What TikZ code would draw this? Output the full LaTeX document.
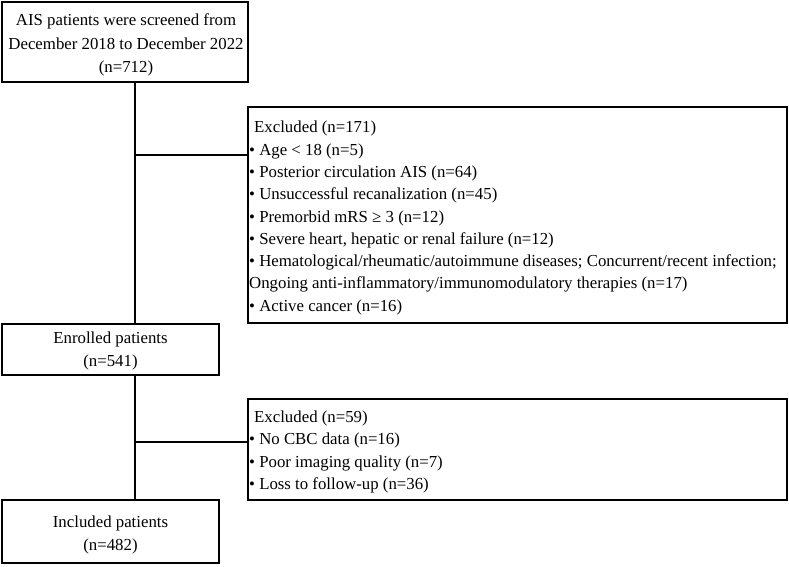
\documentclass[tikz,border=0pt]{standalone}
\usepackage{fontspec}
\setmainfont{Liberation Serif}
\begin{document}
\begin{tikzpicture}[x=1pt,y=-1pt,
  box/.style={draw, line width=1.3pt, inner sep=0pt},
  link/.style={draw, line width=1.3pt},
  ctxt/.style={inner sep=0pt, align=center, font=\fontsize{16.8}{23.5}\selectfont},
  txt/.style={inner sep=0pt, align=left, anchor=west, font=\fontsize{16.8}{22.3}\selectfont}]
\useasboundingbox (0,0) rectangle (789,567);
\node[box, minimum width=246pt, minimum height=80pt] (top) at (125,42) {};
\node[ctxt] (topt) at (126,45)
  {AIS patients were screened from\\December 2018 to December 2022\\(n=712)};
\node[box, minimum width=539pt, minimum height=216pt] (ex1) at (517.5,215) {};
\node[txt] (ex1t) at (249,218) {\hspace{5pt}Excluded (n=171)\\
• Age < 18 (n=5)\\
• Posterior circulation AIS (n=64)\\
• Unsuccessful recanalization (n=45)\\
• Premorbid mRS ≥ 3 (n=12)\\
• Severe heart, hepatic or renal failure (n=12)\\
• Hematological/rheumatic/autoimmune diseases; Concurrent/recent infection;\\
Ongoing anti-inflammatory/immunomodulatory therapies (n=17)\\
• Active cancer (n=16)};
\node[box, minimum width=217pt, minimum height=51pt] (enr) at (110.5,349.5) {};
\node[ctxt] (enrt) at (110.5,351) {Enrolled patients\\(n=541)};
\node[box, minimum width=539pt, minimum height=101pt] (ex2) at (517.5,449.5) {};
\node[txt] (ex2t) at (249,452) {\hspace{5pt}Excluded (n=59)\\
• No CBC data (n=16)\\
• Poor imaging quality (n=7)\\
• Loss to follow-up (n=36)};
\node[box, minimum width=217pt, minimum height=63pt] (inc) at (110.5,531.5) {};
\node[ctxt] (inct) at (110.5,535) {Included patients\\(n=482)};
\coordinate (j1) at (135,155);
\coordinate (j2) at (135,442);
\draw[link] (top.south -| j1) -- (enr.north -| j1);
\draw[link] (j1) -- (j1 -| ex1.west);
\draw[link] (enr.south -| j2) -- (inc.north -| j2);
\draw[link] (j2) -- (j2 -| ex2.west);
\end{tikzpicture}
\end{document}
